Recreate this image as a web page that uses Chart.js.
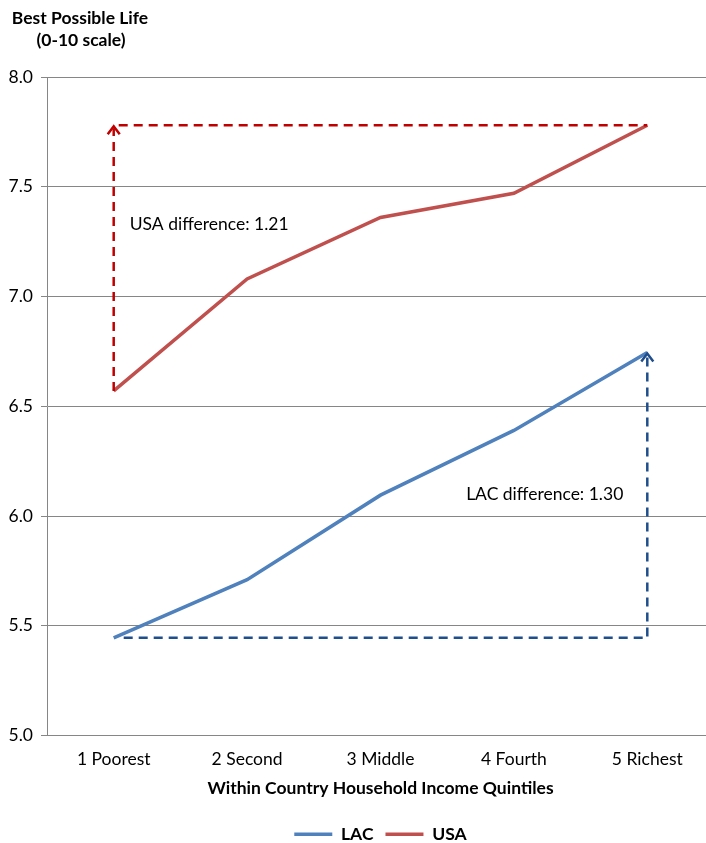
<!DOCTYPE html>
<html>
<head>
<meta charset="utf-8">
<script src="https://cdn.jsdelivr.net/npm/chart.js@4.4.0/dist/chart.umd.min.js"></script>
<style>
  html, body { margin: 0; padding: 0; background: #fff; overflow: hidden; }
  #wrap { width: 706px; height: 843px; overflow: hidden; }
  #box { width: 714px; height: 843px; }
</style>
</head>
<body>
<div id="wrap"><div id="box"><canvas id="lifeChart"></canvas></div></div>
<script>
const quintiles = ['1 Poorest', '2 Second', '3 Middle', '4 Fourth', '5 Richest'];
const lacValues = [5.445, 5.71, 6.095, 6.39, 6.745];
const usaValues = [6.57, 7.08, 7.36, 7.47, 7.78];
const yTicks = [5.0, 5.5, 6.0, 6.5, 7.0, 7.5, 8.0];

const FONT = 'Lato, "Open Sans", sans-serif';
const SIZE = 17.5;

// dashed "difference" arrows and their labels
const diffArrows = {
  id: 'diffArrows',
  afterDatasetsDraw(chart) {
    const ctx = chart.ctx;
    const x = chart.scales.x;
    const y = chart.scales.y;
    const first = x.getPixelForValue(0);
    const last = x.getPixelForValue(quintiles.length - 1);

    const arrowHead = (px, py, color) => {
      ctx.save();
      ctx.setLineDash([]);
      ctx.strokeStyle = color;
      ctx.lineWidth = 2.5;
      ctx.beginPath();
      ctx.moveTo(px - 6, py + 9);
      ctx.lineTo(px, py + 1);
      ctx.lineTo(px + 6, py + 9);
      ctx.stroke();
      ctx.restore();
    };

    ctx.save();
    ctx.lineWidth = 2.5;
    ctx.setLineDash([9, 6]);

    // USA: up from poorest to richest level, then across
    const uLow = y.getPixelForValue(usaValues[0]);
    const uHigh = y.getPixelForValue(usaValues[usaValues.length - 1]);
    ctx.strokeStyle = '#C00000';
    ctx.beginPath();
    ctx.moveTo(first, uLow);
    ctx.lineTo(first, uHigh + 3);
    ctx.stroke();
    ctx.beginPath();
    ctx.moveTo(first + 5, uHigh);
    ctx.lineTo(last, uHigh);
    ctx.stroke();
    arrowHead(first, uHigh, '#C00000');

    // LAC: across at poorest level, then up to richest
    const lLow = y.getPixelForValue(lacValues[0]);
    const lHigh = y.getPixelForValue(lacValues[lacValues.length - 1]);
    ctx.strokeStyle = '#1F4E8C';
    ctx.beginPath();
    ctx.moveTo(first + 10, lLow);
    ctx.lineTo(last, lLow);
    ctx.lineTo(last, lHigh + 3);
    ctx.stroke();
    arrowHead(last, lHigh, '#1F4E8C');
    ctx.restore();

    ctx.save();
    ctx.fillStyle = '#000';
    ctx.font = SIZE + 'px ' + FONT;
    ctx.textBaseline = 'middle';
    ctx.textAlign = 'left';
    ctx.fillText('USA difference: 1.21', first + 16, y.getPixelForValue(7.327));
    ctx.textAlign = 'right';
    ctx.fillText('LAC difference: 1.30', last - 24, y.getPixelForValue(6.10));
    ctx.restore();
  },
  afterDraw(chart) {
    const ctx = chart.ctx;
    ctx.save();
    ctx.fillStyle = '#000';
    ctx.font = 'bold ' + SIZE + 'px ' + FONT;
    ctx.textAlign = 'center';
    ctx.textBaseline = 'middle';
    ctx.fillText('Best Possible Life', 80, 18);
    ctx.fillText('(0-10 scale)', 81, 40);
    ctx.restore();
  }
};

new Chart(document.getElementById('lifeChart'), {
  type: 'line',
  data: {
    labels: quintiles,
    datasets: [{
      label: 'LAC',
      data: lacValues,
      borderColor: '#4F81BD',
      backgroundColor: '#4F81BD',
      borderWidth: 3.5,
      pointRadius: 0,
      tension: 0,
    }, {
      label: 'USA',
      data: usaValues,
      borderColor: '#C0504D',
      backgroundColor: '#C0504D',
      borderWidth: 3.5,
      pointRadius: 0,
      tension: 0,
    }],
  },
  options: {
    responsive: true,
    maintainAspectRatio: false,
    animation: false,
    layout: { padding: { top: 77, bottom: -10, left: 0, right: 0 } },
    plugins: {
      legend: {
        position: 'bottom',
        fullSize: false,
        labels: {
          usePointStyle: true,
          pointStyle: 'line',
          pointStyleWidth: 38,
          color: '#000',
          font: { family: FONT, size: SIZE, weight: 'bold' },
          padding: 12,
        },
      },
      tooltip: { enabled: false },
    },
    scales: {
      x: {
        offset: true,
        grid: { display: false },
        border: { display: false },
        ticks: { color: '#000', font: { family: FONT, size: SIZE }, padding: 5 },
        title: {
          display: true,
          text: 'Within Country Household Income Quintiles',
          color: '#000',
          font: { family: FONT, size: SIZE, weight: 'bold' },
          padding: { top: 4, bottom: 14.5 },
        },
        afterFit(scale) { scale.height = 78; },
      },
      y: {
        min: 5,
        max: 8,
        afterBuildTicks(scale) { scale.ticks = yTicks.map(v => ({ value: v })); },
        grid: { color: '#868686', lineWidth: 1, tickLength: 6 },
        border: { color: '#868686' },
        ticks: {
          color: '#000',
          font: { family: FONT, size: SIZE },
          padding: 8,
          callback: v => v.toFixed(1),
        },
        afterFit(scale) { scale.width = 47; },
      },
    },
  },
  plugins: [diffArrows],
});
</script>
</body>
</html>
